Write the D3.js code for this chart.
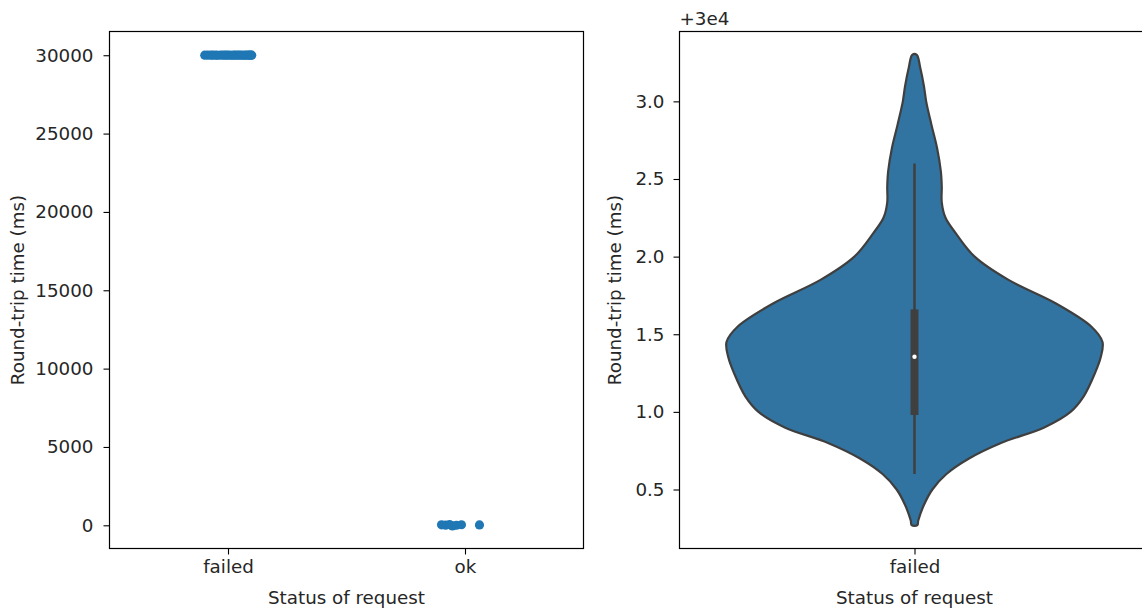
<!DOCTYPE html>
<html>
<head>
<meta charset="utf-8">
<script src="https://cdn.jsdelivr.net/npm/d3@7"></script>
<style>
  body { margin: 0; background: #fff; }
  text { font-family: "DejaVu Sans", sans-serif; fill: #262626; }
</style>
</head>
<body>
<svg width="1142" height="612"></svg>
<script>
var statuses = ["failed", "ok"];

// round-trip times (ms) and their jitter inside the category
var failedRtt = [30001.4, 30000.9, 30001.6, 30002.1, 30001.2, 30000.7, 30001.8, 30001.3,
                 30002.6, 30001.0, 30001.5, 30000.8, 30001.4, 30001.9, 30001.1, 30003.0,
                 30001.3, 30000.6, 30001.7, 30001.2, 30002.3, 30001.5, 30000.9, 30001.4];
var failedJitter = [-0.098, -0.085, -0.072, -0.063, -0.051, -0.044, -0.032, -0.021,
                    -0.012, -0.004, 0.006, 0.015, 0.023, 0.031, 0.040, 0.048,
                    0.057, 0.064, 0.071, 0.079, 0.086, 0.092, 0.097, 0.100];
var okRtt = [30, 10, 45, -40, 5, 35, 25];
var okJitter = [-0.099, -0.082, -0.065, -0.053, -0.036, -0.015, 0.061];

var leftTicks = [0, 5000, 10000, 15000, 20000, 25000, 30000];

// violin of the failed requests: kde profile (offset from 3e4)
var violinRtt = [3.30, 3.22, 3.10, 3.00, 2.85, 2.70, 2.55, 2.45, 2.35, 2.25, 2.15, 2.00,
                 1.85, 1.70, 1.55, 1.45, 1.35, 1.25, 1.10, 1.00, 0.90, 0.80, 0.70, 0.60,
                 0.50, 0.40, 0.30, 0.27];
var violinDensity = [0.012, 0.03, 0.05, 0.062, 0.09, 0.12, 0.14, 0.145, 0.145, 0.165, 0.22, 0.32,
                     0.50, 0.75, 0.94, 1.00, 0.99, 0.96, 0.90, 0.83, 0.69, 0.46, 0.29, 0.17,
                     0.095, 0.05, 0.02, 0.015];
// whisker low, q1, median, q3, whisker high
var boxStats = [0.60, 0.98, 1.355, 1.66, 2.60];
var rightTicks = [0.5, 1.0, 1.5, 2.0, 2.5, 3.0];
var rttOffset = 30000;

var svg = d3.select("svg");
var top0 = 31.5, h = 517, fs = "18.3px";

// ---- left: strip plot ----
var g1 = svg.append("g").attr("transform", "translate(109.5," + top0 + ")");
var x1 = d3.scalePoint().domain(statuses).range([0, 474]).padding(0.5);
var step1 = x1.step();
var y1 = d3.scaleLinear().domain([-1480, 31515]).range([h, 0]);

g1.append("g")
    .attr("transform", "translate(0," + h + ")")
    .call(d3.axisBottom(x1).tickSize(6).tickPadding(6));
g1.append("g")
    .call(d3.axisLeft(y1).tickValues(leftTicks).tickFormat(d3.format("d")).tickSize(6).tickPadding(10));

g1.selectAll(".failed").data(failedRtt).enter().append("circle")
    .attr("cx", function(d, i) { return x1("failed") + failedJitter[i] * step1; })
    .attr("cy", function(d) { return y1(d); })
    .attr("r", 4.6)
    .attr("fill", "#1f77b4");
g1.selectAll(".ok").data(okRtt).enter().append("circle")
    .attr("cx", function(d, i) { return x1("ok") + okJitter[i] * step1; })
    .attr("cy", function(d) { return y1(d); })
    .attr("r", 4.6)
    .attr("fill", "#1f77b4");

g1.append("rect").attr("width", 474).attr("height", h)
    .attr("fill", "none").attr("stroke", "#000").attr("stroke-width", 1.2);

g1.append("text").attr("x", 237).attr("y", h + 55).attr("text-anchor", "middle")
    .style("font-size", fs).text("Status of request");
g1.append("text").attr("transform", "translate(-86," + (h / 2) + ") rotate(-90)")
    .attr("text-anchor", "middle").style("font-size", fs).text("Round-trip time (ms)");

// ---- right: violin ----
var g2 = svg.append("g").attr("transform", "translate(679.5," + top0 + ")");
var x2 = d3.scalePoint().domain(["failed"]).range([0, 470]).padding(0.5);
var y2 = d3.scaleLinear().domain([rttOffset + 0.12, rttOffset + 3.45]).range([h, 0]);
var halfW = d3.scaleLinear().domain([0, 1]).range([0, 0.4 * 470]);
var cx = x2("failed");

g2.append("g")
    .attr("transform", "translate(0," + h + ")")
    .call(d3.axisBottom(x2).tickSize(6).tickPadding(6));
g2.append("g")
    .call(d3.axisLeft(y2).tickValues(rightTicks.map(function(d) { return d + rttOffset; }))
      .tickFormat(function(d) { return d3.format(".1f")(d - rttOffset); }).tickSize(6).tickPadding(9));

var profile = violinRtt.map(function(v, i) { return [v + rttOffset, violinDensity[i]]; });
var outline = profile.map(function(p) { return [cx + halfW(p[1]), y2(p[0])]; })
    .concat(profile.slice().reverse().map(function(p) { return [cx - halfW(p[1]), y2(p[0])]; }));

g2.append("path")
    .attr("d", d3.line().curve(d3.curveCatmullRomClosed)(outline))
    .attr("fill", "#3274a1")
    .attr("stroke", "#3f3f3f")
    .attr("stroke-width", 2.2);

g2.append("line")
    .attr("x1", cx).attr("x2", cx)
    .attr("y1", y2(boxStats[0] + rttOffset)).attr("y2", y2(boxStats[4] + rttOffset))
    .attr("stroke", "#3f3f3f").attr("stroke-width", 2.5);
g2.append("rect")
    .attr("x", cx - 4).attr("width", 8)
    .attr("y", y2(boxStats[3] + rttOffset))
    .attr("height", y2(boxStats[1] + rttOffset) - y2(boxStats[3] + rttOffset))
    .attr("fill", "#3f3f3f");
g2.append("circle")
    .attr("cx", cx).attr("cy", y2(boxStats[2] + rttOffset)).attr("r", 2.2)
    .attr("fill", "#fff");

g2.append("rect").attr("width", 470).attr("height", h)
    .attr("fill", "none").attr("stroke", "#000").attr("stroke-width", 1.2);

g2.append("text").attr("x", 0).attr("y", -7).style("font-size", fs).text("+3e4");
g2.append("text").attr("x", 235).attr("y", h + 55).attr("text-anchor", "middle")
    .style("font-size", fs).text("Status of request");
g2.append("text").attr("transform", "translate(-59," + (h / 2) + ") rotate(-90)")
    .attr("text-anchor", "middle").style("font-size", fs).text("Round-trip time (ms)");

svg.selectAll(".tick text").style("font-size", fs).attr("fill", "#262626");
svg.selectAll(".domain").remove();
svg.selectAll(".tick line").attr("stroke", "#000").attr("stroke-width", 1.1);
</script>
</body>
</html>
